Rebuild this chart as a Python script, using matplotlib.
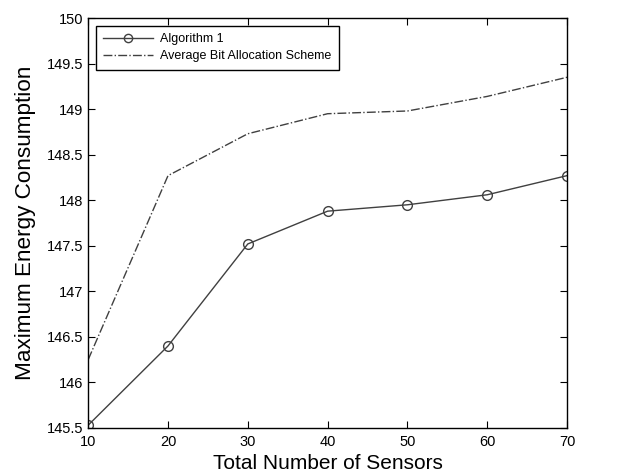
import numpy as np
import matplotlib
matplotlib.use("Agg")
import matplotlib.pyplot as plt

plt.rcParams['font.family'] = ['Liberation Sans', 'DejaVu Sans']

# data
sensors = [10, 20, 30, 40, 50, 60, 70]
algorithm1 = [145.53, 146.4, 147.52, 147.88, 147.95, 148.06, 148.27]
average_bit = [146.25, 148.27, 148.73, 148.95, 148.98, 149.14, 149.35]
yticks = [145.5, 146, 146.5, 147, 147.5, 148, 148.5, 149, 149.5, 150]
ytick_labels = ['145.5', '146', '146.5', '147', '147.5', '148', '148.5', '149', '149.5', '150']

fig = plt.figure(figsize=(6.3, 4.76), dpi=100)
ax = fig.add_axes([0.14, 0.101, 0.76, 0.861])

ax.plot(sensors, algorithm1, color='#404040', lw=1.0, marker='o', ms=7,
        mfc='none', mec='#404040', mew=1.0, label='Algorithm 1')
ax.plot(sensors, average_bit, color='#404040', lw=1.0, ls='-.',
        label='Average Bit Allocation Scheme')

ax.set_xlim(10, 70)
ax.set_ylim(145.5, 150)
ax.set_xticks(sensors)
ax.set_yticks(yticks)
ax.set_yticklabels(ytick_labels)
ax.tick_params(direction='in', length=5, labelsize=10.5, top=True, right=True, width=0.8)
ax.tick_params(axis='x', pad=5)
for s in ax.spines.values():
    s.set_linewidth(1.0)

ax.set_xlabel('Total Number of Sensors', fontsize=15, labelpad=4)
ax.set_ylabel('Maximum Energy Consumption', fontsize=16.2)
ax.yaxis.set_label_coords(-0.108, 0.5)

leg = ax.legend(loc='upper left', fontsize=9, fancybox=False, framealpha=1,
                edgecolor='black', borderaxespad=0.6, handlelength=4.0,
                handletextpad=0.55, borderpad=0.6, labelspacing=0.4,
                markerscale=0.85)
leg.get_frame().set_linewidth(1.0)

fig.savefig('out.png', dpi=100)
